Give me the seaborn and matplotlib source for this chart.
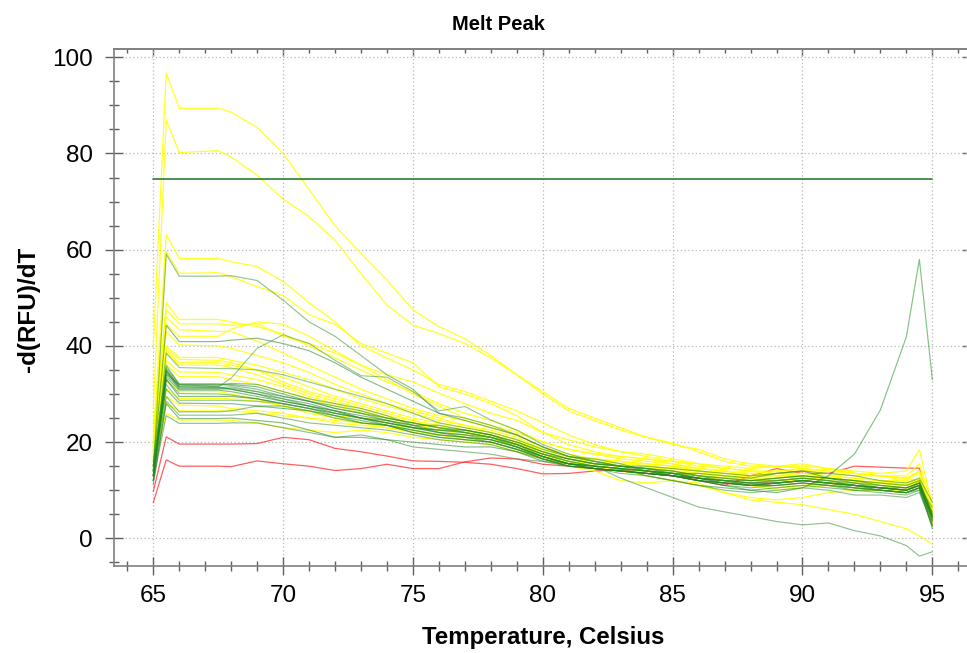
import matplotlib
matplotlib.use("Agg")
import matplotlib.pyplot as plt
from matplotlib.ticker import MultipleLocator
import seaborn as sns
import pandas as pd

# ---------------- data ----------------
temps = [65, 65.5, 66, 67.5, 68, 69, 70, 71, 72, 73, 74, 75, 76, 77, 78, 79, 80,
         81, 82, 83, 84, 85, 86, 87, 88, 89, 90, 91, 92, 93, 94, 94.5, 95]

# yellow wells
y01 = [40, 96.7, 89.4, 89.4, 88.6, 85.4, 80.0, 72.5, 65.0, 59.2, 53.7, 47.5, 44.0, 41.5, 38.0, 34.0, 30.5, 27.0, 25.0, 23.0, 21.0, 19.8, 18.0, 16.0, 15.0, 14.8, 15.0, 14.5, 13.5, 13.0, 12.0, 11.5, 3.0]
y02 = [27, 87.0, 80.2, 80.6, 79.3, 75.5, 70.5, 66.9, 62.0, 55.0, 48.5, 44.3, 42.6, 40.5, 37.5, 34.0, 30.0, 26.5, 24.5, 22.5, 21.0, 19.5, 18.5, 16.5, 15.5, 15.0, 14.5, 14.0, 13.5, 13.0, 12.5, 12.0, 6.0]
y03 = [20, 63.1, 58.2, 58.2, 57.5, 56.5, 53.4, 49.0, 45.0, 40.0, 37.5, 35.0, 32.0, 30.5, 28.5, 26.5, 24.0, 21.5, 19.5, 18.0, 17.0, 16.0, 15.0, 14.5, 14.0, 13.5, 13.0, 12.5, 12.0, 11.5, 11.0, 11.5, 4.5]
y04 = [18, 59.6, 55.1, 55.2, 54.4, 52.3, 50.5, 46.5, 44.5, 40.5, 38.5, 36.5, 31.5, 30.0, 28.0, 25.5, 22.0, 19.5, 18.0, 17.0, 16.5, 15.5, 14.5, 14.0, 13.5, 13.0, 12.5, 12.5, 12.0, 11.5, 11.0, 12.0, 5.0]
y05 = [16, 49.0, 45.5, 45.5, 45.0, 44.0, 42.5, 40.0, 37.5, 35.0, 32.5, 30.5, 28.0, 26.0, 24.5, 22.5, 20.0, 18.5, 17.5, 17.0, 16.5, 16.0, 15.5, 15.0, 14.5, 15.0, 15.5, 14.5, 13.5, 13.0, 12.5, 14.0, 5.5]
y06 = [22, 47.5, 44.6, 44.6, 44.3, 44.6, 42.0, 40.5, 38.5, 36.0, 34.0, 32.5, 30.2, 28.0, 26.0, 24.5, 22.0, 20.5, 19.0, 18.0, 17.5, 16.5, 15.5, 14.5, 14.0, 14.0, 14.5, 14.0, 13.5, 13.0, 12.5, 13.5, 6.0]
y07 = [19, 46.0, 43.4, 43.0, 43.0, 41.0, 38.5, 36.0, 33.5, 31.0, 29.0, 27.0, 25.5, 24.5, 23.0, 21.5, 19.0, 17.5, 16.5, 16.0, 15.5, 15.0, 14.5, 14.0, 13.0, 13.0, 13.0, 12.5, 12.0, 11.5, 11.0, 12.0, 4.0]
y08 = [24, 44.5, 42.0, 42.0, 43.5, 45.0, 44.5, 42.0, 39.0, 36.0, 33.0, 30.0, 27.5, 25.0, 23.5, 22.0, 20.0, 18.5, 17.5, 16.5, 16.0, 15.5, 14.5, 14.0, 13.0, 13.5, 13.5, 13.0, 12.5, 12.0, 11.0, 12.5, 5.0]
y09 = [17, 43.0, 40.2, 40.0, 39.5, 38.0, 36.5, 34.5, 32.0, 30.0, 28.0, 26.5, 25.0, 23.5, 22.0, 20.5, 18.5, 17.0, 16.5, 16.0, 15.0, 14.5, 14.0, 13.0, 12.5, 12.0, 12.5, 12.5, 12.0, 11.5, 11.0, 12.0, 5.0]
y10 = [15, 40.0, 37.6, 37.6, 37.0, 36.0, 34.5, 33.0, 31.0, 29.0, 27.5, 26.0, 24.5, 23.5, 22.5, 21.0, 18.5, 17.0, 16.0, 15.5, 15.0, 14.5, 13.5, 13.0, 12.0, 12.0, 12.5, 12.0, 11.5, 11.0, 10.5, 11.5, 5.0]
y11 = [20, 39.5, 37.2, 37.0, 36.5, 35.0, 33.5, 31.5, 29.5, 28.0, 26.5, 25.0, 24.0, 23.0, 22.0, 20.5, 18.0, 16.5, 16.0, 15.5, 15.5, 15.0, 14.0, 13.0, 12.5, 12.5, 13.0, 12.5, 12.0, 11.5, 11.5, 12.5, 6.0]
y12 = [18, 39.0, 36.5, 36.5, 36.0, 35.0, 32.5, 30.5, 29.0, 27.5, 26.0, 24.5, 23.5, 22.5, 21.5, 20.0, 17.5, 16.0, 15.5, 15.0, 14.5, 14.0, 13.5, 12.5, 12.0, 12.0, 12.0, 11.5, 11.0, 10.5, 10.0, 11.0, 4.0]
y13 = [21, 38.5, 36.0, 36.0, 35.5, 34.0, 32.0, 30.0, 28.5, 27.0, 25.5, 24.5, 23.0, 22.0, 21.0, 19.5, 17.0, 15.5, 15.0, 14.5, 14.0, 13.5, 13.0, 12.0, 11.0, 10.0, 10.5, 11.0, 11.5, 11.5, 11.0, 12.0, 5.5]
y14 = [16, 37.0, 34.6, 34.5, 34.0, 33.0, 31.5, 29.5, 28.0, 26.5, 25.0, 24.0, 23.0, 22.0, 21.0, 19.5, 17.5, 16.0, 15.5, 15.0, 14.5, 14.0, 13.0, 12.0, 11.0, 10.5, 11.0, 11.5, 11.5, 11.0, 10.5, 11.5, 4.5]
y15 = [19, 36.0, 33.6, 33.6, 33.0, 32.0, 30.5, 29.0, 27.5, 26.0, 25.0, 24.0, 23.0, 22.0, 21.0, 19.0, 17.0, 16.0, 15.5, 15.0, 14.5, 14.0, 13.0, 12.0, 11.0, 10.5, 11.0, 11.0, 10.5, 10.0, 9.5, 10.5, 4.0]
y16 = [17, 31.0, 29.1, 29.1, 29.0, 28.5, 27.5, 26.5, 25.5, 25.0, 24.5, 23.5, 23.0, 22.0, 21.5, 20.0, 18.5, 17.0, 16.5, 16.0, 15.5, 15.0, 14.0, 13.5, 13.0, 13.0, 13.5, 13.0, 12.5, 12.0, 12.0, 14.0, 8.0]
y17 = [20, 29.5, 27.7, 27.5, 27.0, 26.5, 26.0, 25.0, 24.5, 24.0, 23.5, 23.0, 22.5, 21.5, 21.0, 19.5, 18.0, 16.5, 15.5, 15.0, 14.5, 14.5, 14.0, 13.5, 13.5, 14.0, 14.0, 13.5, 13.0, 13.0, 13.0, 15.5, 7.0]
y18 = [15, 26.0, 24.6, 24.6, 24.5, 24.0, 23.0, 22.5, 22.0, 22.5, 22.0, 21.0, 20.5, 20.0, 19.5, 18.0, 16.5, 15.5, 15.0, 14.5, 14.0, 13.5, 13.0, 12.5, 13.0, 13.5, 14.0, 14.5, 14.0, 13.5, 14.0, 18.5, 6.5]
y19 = [18, 33.0, 30.5, 30.5, 30.0, 29.0, 27.5, 26.0, 25.0, 24.0, 23.0, 22.0, 21.5, 20.5, 20.0, 18.5, 16.5, 15.0, 14.0, 12.0, 11.5, 12.0, 11.5, 9.5, 8.0, 7.5, 7.0, 6.0, 5.0, 3.5, 2.0, 0.5, -1.2]
y20 = [17, 28.0, 26.5, 26.5, 26.5, 26.0, 25.5, 25.0, 24.0, 23.5, 23.0, 22.5, 21.5, 21.0, 20.5, 19.5, 17.5, 16.0, 15.0, 14.0, 13.0, 12.0, 11.0, 9.5, 8.5, 8.0, 8.5, 9.5, 10.0, 10.0, 10.0, 11.0, 3.5]

# green wells
g01 = [14, 59.1, 54.5, 54.5, 54.6, 53.6, 49.5, 45.0, 42.0, 38.0, 34.0, 31.0, 26.0, 25.0, 23.5, 21.5, 19.0, 17.0, 16.5, 15.5, 14.0, 13.5, 12.5, 12.0, 11.5, 12.0, 12.5, 12.0, 11.0, 10.5, 10.0, 11.0, 4.5]
g02 = [15, 44.3, 40.9, 40.9, 41.2, 41.6, 40.5, 39.0, 36.5, 33.5, 31.0, 28.5, 26.0, 24.5, 23.0, 21.5, 19.0, 17.0, 16.0, 15.0, 14.5, 14.0, 13.0, 12.5, 12.0, 12.5, 13.0, 12.5, 12.0, 11.5, 11.0, 12.0, 5.0]
g03 = [13, 38.5, 35.5, 35.3, 35.3, 35.0, 34.0, 32.5, 31.0, 29.5, 28.0, 26.0, 24.0, 23.0, 22.0, 20.5, 18.5, 17.0, 16.0, 15.0, 14.5, 14.0, 13.0, 12.5, 12.0, 12.0, 12.5, 12.0, 11.5, 11.0, 10.5, 11.5, 4.5]
g04 = [15, 35.5, 32.1, 32.1, 32.0, 31.5, 30.0, 28.5, 27.5, 26.5, 25.0, 24.0, 23.0, 22.0, 21.0, 19.5, 17.5, 16.0, 15.0, 14.5, 13.0, 12.0, 11.0, 10.5, 10.0, 10.5, 11.0, 10.5, 10.0, 10.0, 9.5, 10.5, 2.0]
g05 = [13, 35.0, 31.8, 31.8, 32.2, 32.0, 30.5, 29.0, 28.0, 27.0, 25.5, 23.5, 22.0, 21.5, 20.5, 19.0, 17.0, 15.5, 14.5, 14.0, 13.5, 13.0, 12.5, 11.5, 11.0, 11.5, 12.0, 11.5, 11.0, 10.5, 10.0, 11.5, 5.0]
g06 = [14, 34.5, 31.5, 31.3, 31.5, 30.5, 29.5, 28.5, 27.0, 26.0, 24.5, 23.0, 22.5, 22.0, 21.0, 19.0, 17.0, 15.5, 15.0, 14.5, 14.0, 13.0, 12.0, 11.0, 10.5, 11.0, 11.5, 11.0, 10.0, 9.5, 9.0, 10.0, 2.5]
g07 = [12, 34.0, 31.2, 31.2, 31.0, 30.0, 29.0, 28.0, 26.5, 25.5, 24.5, 23.5, 23.5, 22.5, 21.5, 19.5, 17.5, 16.5, 15.5, 15.0, 14.0, 13.5, 13.5, 13.0, 12.5, 13.5, 14.0, 12.5, 11.5, 10.5, 10.5, 11.5, 4.5]
g08 = [16, 34.8, 31.0, 31.0, 31.2, 30.5, 29.0, 27.5, 26.5, 25.0, 23.5, 22.5, 21.5, 21.0, 20.5, 19.0, 16.5, 15.0, 14.5, 14.0, 13.5, 13.0, 12.0, 11.5, 11.0, 11.0, 11.5, 11.0, 10.5, 10.0, 9.5, 10.5, 3.5]
g09 = [13, 33.5, 30.8, 30.8, 30.5, 29.5, 28.5, 27.5, 26.0, 25.0, 24.0, 23.0, 22.5, 22.5, 21.5, 20.0, 18.0, 16.5, 15.5, 15.0, 14.5, 13.5, 12.5, 12.0, 11.5, 11.5, 12.0, 11.5, 11.0, 10.5, 10.0, 11.0, 4.5]
g10 = [14, 34.2, 32.0, 32.0, 31.8, 31.0, 29.5, 28.5, 27.0, 26.0, 25.0, 24.0, 23.0, 22.5, 21.5, 20.0, 18.0, 16.5, 15.5, 15.0, 15.0, 14.5, 14.0, 13.5, 13.0, 13.5, 14.0, 13.5, 13.0, 12.0, 11.5, 12.5, 7.5]
g11 = [14, 33.0, 30.1, 30.0, 29.8, 29.0, 28.0, 27.0, 26.0, 25.0, 24.0, 23.0, 22.0, 21.5, 21.0, 19.5, 17.0, 15.5, 15.0, 14.5, 14.0, 13.5, 12.5, 12.0, 11.0, 11.5, 12.0, 11.5, 11.0, 10.5, 10.0, 11.0, 3.5]
g12 = [13, 33.0, 29.5, 29.5, 29.5, 29.0, 28.0, 27.0, 25.5, 24.5, 23.5, 22.0, 21.0, 20.5, 20.0, 18.5, 16.5, 15.5, 14.5, 14.0, 13.5, 13.0, 12.5, 11.5, 11.0, 11.0, 11.5, 11.0, 10.5, 10.0, 9.5, 10.5, 2.5]
g13 = [12, 32.0, 28.7, 28.7, 28.7, 28.5, 28.0, 27.0, 26.0, 25.0, 24.5, 23.5, 22.5, 22.0, 21.0, 19.5, 17.5, 16.0, 15.0, 14.5, 14.0, 13.0, 12.0, 11.5, 11.5, 12.0, 12.5, 12.0, 11.0, 10.0, 9.5, 10.5, 6.5]
g14 = [15, 31.0, 28.1, 28.0, 28.0, 27.5, 27.0, 26.5, 25.5, 24.0, 23.5, 22.5, 21.5, 21.0, 20.5, 19.0, 17.0, 15.5, 15.0, 14.5, 14.0, 13.5, 12.5, 12.0, 12.0, 12.5, 13.0, 12.5, 12.0, 11.0, 10.5, 11.5, 5.5]
g15 = [13, 29.5, 26.3, 26.3, 26.5, 27.5, 27.5, 26.5, 25.0, 24.0, 23.5, 22.0, 21.0, 20.5, 20.0, 18.5, 16.5, 15.0, 14.5, 14.0, 13.5, 13.0, 12.0, 11.5, 11.0, 11.5, 12.0, 11.5, 10.5, 10.0, 9.5, 10.5, 4.0]
g16 = [11, 28.5, 25.6, 25.6, 25.6, 26.0, 25.0, 24.0, 23.5, 23.0, 22.5, 21.5, 20.5, 20.0, 19.5, 18.0, 16.5, 15.0, 14.5, 13.5, 13.0, 12.0, 11.0, 10.0, 9.5, 10.0, 10.5, 10.0, 9.0, 9.0, 8.5, 9.5, 3.0]
g17 = [12, 28.0, 24.9, 24.9, 25.0, 24.5, 24.0, 22.5, 21.0, 21.0, 20.5, 20.0, 19.5, 19.0, 19.0, 18.0, 16.0, 15.0, 14.5, 14.0, 13.5, 13.0, 12.0, 11.5, 11.0, 11.5, 12.0, 11.5, 11.0, 10.5, 10.0, 11.0, 4.0]
g_rise = [14, 36.0, 32.0, 31.5, 33.3, 39.5, 42.3, 40.5, 37.0, 33.8, 33.5, 30.5, 26.5, 27.4, 24.6, 22.5, 19.5, 17.5, 16.0, 15.0, 14.5, 13.5, 13.0, 12.0, 11.0, 11.5, 12.0, 11.5, 11.0, 10.0, 9.5, 10.0, 4.0]
g_spike = [13, 35.0, 31.5, 31.5, 31.0, 30.0, 28.5, 27.5, 26.5, 25.0, 24.0, 23.0, 22.0, 21.0, 20.0, 18.5, 17.0, 15.5, 14.5, 14.0, 13.5, 13.0, 12.0, 11.0, 10.0, 9.5, 10.5, 13.0, 17.5, 26.7, 41.9, 58.0, 33.0]
g_low = [12, 25.5, 23.9, 23.9, 24.0, 24.0, 23.0, 22.0, 21.0, 21.5, 20.5, 19.0, 18.5, 18.0, 17.5, 16.5, 16.0, 15.5, 15.0, 12.5, 10.5, 8.5, 6.5, 5.5, 4.5, 3.5, 2.8, 3.2, 1.6, 0.5, -1.5, -3.7, -2.8]

# red wells
r01 = [9.7, 21.1, 19.6, 19.6, 19.6, 19.7, 21.0, 20.5, 18.7, 18.0, 17.1, 16.1, 16.0, 15.8, 15.4, 14.5, 13.4, 13.5, 14.0, 14.3, 14.0, 13.0, 12.0, 11.0, 13.0, 14.5, 13.5, 13.5, 15.0, 14.8, 14.6, 14.6, 3.5]
r02 = [7.4, 16.3, 15.0, 15.0, 14.9, 16.1, 15.5, 15.0, 14.1, 14.5, 15.4, 14.5, 14.5, 15.9, 16.7, 16.5, 15.4, 15.0, 14.5, 14.0, 13.5, 13.0, 12.5, 12.0, 11.5, 11.5, 12.0, 11.5, 11.0, 10.5, 10.0, 11.0, 3.0]

# flat reference trace
flat_temps = [65, 95]
flat_vals = [74.8, 74.8]

yellow_series = [y01, y02, y03, y04, y05, y06, y07, y08, y09, y10,
                 y11, y12, y13, y14, y15, y16, y17, y18, y19, y20]
green_series = [g01, g02, g03, g04, g05, g06, g07, g08, g09, g10, g11, g12,
                g13, g14, g15, g16, g17, g_rise, g_spike, g_low]
red_series = [r01, r02]

# ---------------- build long table ----------------
rows = []
for grp, lst in (("red", red_series), ("yellow", yellow_series), ("green", green_series)):
    for i, vals in enumerate(lst):
        if len(vals) != len(temps):
            raise ValueError(f"{grp}{i} has {len(vals)} values")
        for t, v in zip(temps, vals):
            rows.append({"T": t, "v": v, "well": f"{grp}{i}", "grp": grp})
df = pd.DataFrame(rows)
flat_df = pd.DataFrame({"T": flat_temps, "v": flat_vals, "well": "flat"})

# ---------------- figure ----------------
sns.set_style("white")
plt.rcParams["font.family"] = ["Liberation Sans", "DejaVu Sans"]
plt.rcParams["text.color"] = "black"
plt.rcParams["axes.labelcolor"] = "black"

fig = plt.figure(figsize=(9.67, 6.53), dpi=100)
ax = fig.add_axes([114.3 / 967, 87 / 653, 857 / 967, 516.7 / 653])

green_shades = ["#2f8f2f", "#1f7a1f", "#3a9a3a", "#138a13", "#2a8a2a"]
green_pal = {f"green{i}": green_shades[i % len(green_shades)] for i in range(len(green_series))}

sns.lineplot(data=df[df.grp == "red"], x="T", y="v", units="well", estimator=None,
             color="#ff2a2a", alpha=0.75, lw=0.9, ax=ax, legend=False, sort=False)
sns.lineplot(data=df[df.grp == "yellow"], x="T", y="v", units="well", estimator=None,
             color="#ffff00", alpha=0.85, lw=0.9, ax=ax, legend=False, sort=False)
sns.lineplot(data=df[df.grp == "green"], x="T", y="v", hue="well", palette=green_pal,
             estimator=None, alpha=0.52, lw=0.85, ax=ax, legend=False, sort=False)
sns.lineplot(data=flat_df, x="T", y="v", estimator=None, color="#2e7d2e",
             lw=1.2, ax=ax, legend=False, sort=False)

ax.set_xlim(63.5, 96.5)
ax.set_ylim(-5.75, 101.66)

ax.xaxis.set_major_locator(MultipleLocator(5))
ax.xaxis.set_minor_locator(MultipleLocator(1))
ax.yaxis.set_major_locator(MultipleLocator(20))
ax.yaxis.set_minor_locator(MultipleLocator(5))

ax.grid(True, which="major", color="#b8b8b8", linestyle=(0, (1, 2)), linewidth=0.9)
ax.set_axisbelow(True)

for s in ax.spines.values():
    s.set_color("#808080")
    s.set_linewidth(1.2)

ax.tick_params(axis="both", which="major", direction="inout", length=13, width=1,
               color="#606060", labelsize=17.5, labelcolor="black", pad=7,
               bottom=True, left=True, top=False, right=False)
ax.tick_params(axis="both", which="minor", direction="inout", length=6.5, width=1,
               color="#606060", bottom=True, left=True, top=False, right=False)
ax.tick_params(axis="y", which="major", pad=9)

secx = ax.secondary_xaxis("top")
secx.xaxis.set_major_locator(MultipleLocator(5))
secx.xaxis.set_minor_locator(MultipleLocator(1))
secx.tick_params(which="major", direction="in", length=5, width=1, color="#606060",
                 top=True, labeltop=False)
secx.tick_params(which="minor", direction="in", length=3, width=1, color="#606060", top=True)
secx.spines["top"].set_color("#808080")
secx.spines["top"].set_linewidth(1.2)

secy = ax.secondary_yaxis("right")
secy.yaxis.set_major_locator(MultipleLocator(20))
secy.yaxis.set_minor_locator(MultipleLocator(5))
secy.tick_params(which="major", direction="in", length=6.5, width=1, color="#606060",
                 right=True, labelright=False)
secy.tick_params(which="minor", direction="in", length=3.2, width=1, color="#606060", right=True)

ax.set_xlabel("Temperature, Celsius", fontsize=17.3, fontweight="bold", va="baseline")
ax.xaxis.set_label_coords(0.5, -(644 - 566) / 516.7)
ax.set_ylabel("-d(RFU)/dT", fontsize=17.5, fontweight="bold", va="baseline")
ax.yaxis.set_label_coords((35 - 114.3) / 857, 0.497)

fig.text(498 / 967, 1 - 30 / 653, "Melt Peak", ha="center", va="baseline",
         fontsize=14.5, fontweight="bold", color="black")

fig.savefig("out.png", dpi=100)
